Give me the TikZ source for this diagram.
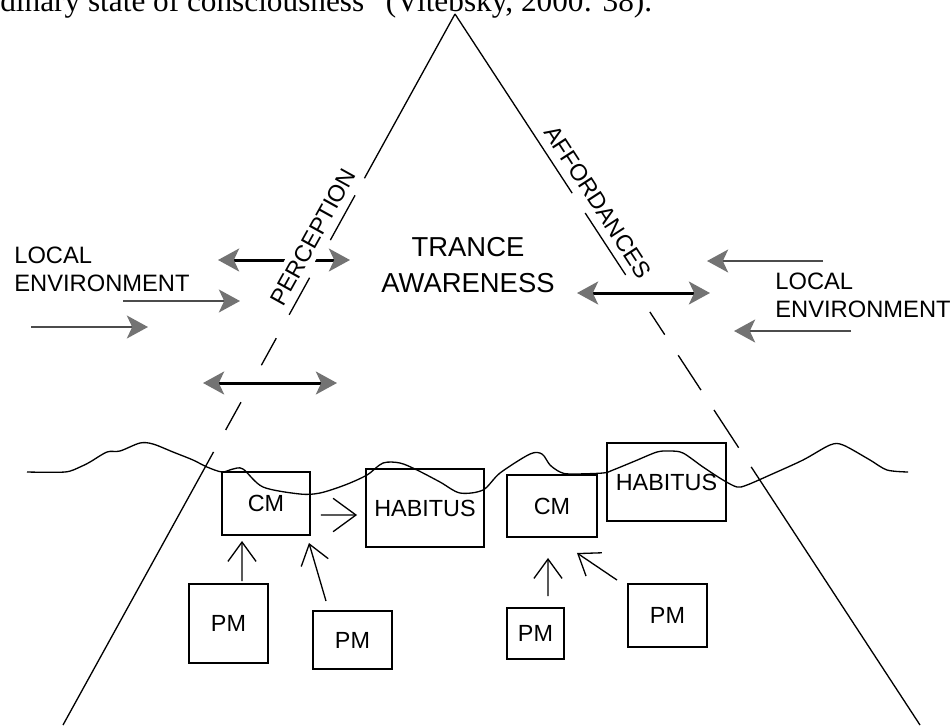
\documentclass[tikz,border=0pt]{standalone}
\usepackage{fontspec}
\setmainfont{Liberation Serif}
\setsansfont{Liberation Sans}
\usetikzlibrary{arrows.meta}
\usetikzlibrary{calc}
\usetikzlibrary{positioning}

\begin{document}
\begin{tikzpicture}[x=0.02cm, y=-0.02cm]
    \tikzset{
      gtip/.tip={Stealth[length=12pt, width=13pt, inset=3pt, color=black!55]},
      lbl/.style={font=\sffamily\fontsize{13.3}{16}\selectfont, inner sep=0pt},
      box/.style={draw, line width=1.1pt, lbl},
      side/.style={line width=0.75pt},
      wave/.style={line width=0.75pt},
      inarrow/.style={line width=1.4pt, draw=black!70, -gtip},
      twoarrow/.style={line width=1.7pt, gtip-gtip},
      openarrow/.style={line width=0.75pt, -{Straight Barb[length=11pt, width=16pt]}},
    }
    \useasboundingbox (0,0) rectangle (952,727);
    \clip (0,0) rectangle (952,727);

    % quoted line cut by the top edge
    \node[anchor=base west, inner sep=0pt, font=\fontsize{17.8}{20}\selectfont] (cite) at (0,11)
      {dinary state of consciousness” (Vitebsky, 2000: 38).};

    % triangle
    \coordinate (top) at (455,14);
    \coordinate (bl) at (63,725);
    \coordinate (br) at (920,725);
    \foreach \a/\b in {0/0.231, 0.255/0.318, 0.371/0.423, 0.456/0.494, 0.546/0.585, 0.616/1}
      \draw[side] ($(top)!\a!(bl)$) -- ($(top)!\b!(bl)$);
    \foreach \a/\b in {0/0.252, 0.280/0.367, 0.419/0.451, 0.480/0.529, 0.557/0.610, 0.637/1}
      \draw[side] ($(top)!\a!(br)$) -- ($(top)!\b!(br)$);

    % water line
    \draw[wave] plot[smooth, tension=0.5] coordinates {
      (27,472) (65,472) (80,467) (90,462) (107,452) (120,451) (140,443) (153,444)
      (173,452) (193,460) (207,467) (222,472) (233,469) (243,469) (263,487)
      (300,494) (320,493) (345,485) (367,475) (383,463) (400,463) (417,470)
      (440,482) (460,493) (483,490) (500,473) (530,454) (542,454) (550,465)
      (560,472) (570,474) (603,473) (613,470) (635,461) (657,452) (670,451)
      (683,453) (703,467) (723,480) (737,487) (747,485) (770,475) (803,460)
      (830,445) (843,445) (870,460) (887,470) (908,472)};

    % big arrows
    \coordinate (pl1) at (218,260);
    \coordinate (pr1) at (350,260);
    \coordinate (pl2) at (203,383);
    \coordinate (pr2) at (337,383);
    \coordinate (al) at (577,293);
    \coordinate (ar) at (710,293);
    \draw[twoarrow] (pl1) -- (pr1);
    \draw[twoarrow] (pl2) -- (pr2);
    \draw[twoarrow] (al) -- (ar);

    \coordinate (el1) at (123,301);
    \coordinate (et1) at (240,301);
    \coordinate (el2) at (31,327);
    \coordinate (et2) at (148,327);
    \coordinate (er1) at (823,261);
    \coordinate (eu1) at (707,261);
    \coordinate (er2) at (851,331);
    \coordinate (eu2) at (734,331);
    \draw[inarrow] (el1) -- (et1);
    \draw[inarrow] (el2) -- (et2);
    \draw[inarrow] (er1) -- (eu1);
    \draw[inarrow] (er2) -- (eu2);

    % labels
    \node[lbl, font=\sffamily\fontsize{13.5}{16}\selectfont, align=left, anchor=west] (envl) at (14,269)
      {LOCAL\\ENVIRONMENT};
    \node[lbl, font=\sffamily\fontsize{13.5}{16}\selectfont, align=left, anchor=west] (envr) at (775,295)
      {LOCAL\\ENVIRONMENT};
    \node[lbl, font=\sffamily\fontsize{15.6}{20}\selectfont, align=center] (trance) at (468,265)
      {TRANCE\\AWARENESS};
    \node[lbl, rotate=61, fill=white, inner sep=3pt] (perc) at (313,237) {PERCEPTION};
    \node[lbl, rotate=-57] (aff) at (598,202) {AFFORDANCES};

    % boxes
    \node[box, minimum width=1.76cm, minimum height=1.26cm] (cm1) at (266,503.5) {CM};
    \node[box, minimum width=2.36cm, minimum height=1.56cm] (hab1) at (425,508) {HABITUS};
    \node[box, minimum width=1.80cm, minimum height=1.24cm] (cm2) at (552,506) {CM};
    \node[box, minimum width=2.38cm, minimum height=1.56cm] (hab2) at (666.5,482) {HABITUS};
    \node[box, minimum width=1.58cm, minimum height=1.58cm] (pm1) at (228.5,623.5) {PM};
    \node[box, minimum width=1.58cm, minimum height=1.16cm] (pm2) at (352.5,640) {PM};
    \node[box, minimum width=1.14cm, minimum height=1.02cm] (pm3) at (535.5,633.5) {PM};
    \node[box, minimum width=1.58cm, minimum height=1.26cm] (pm4) at (667.5,615.5) {PM};

    \draw[openarrow, -{Straight Barb[length=13pt, width=19pt]}] ([xshift=0.2cm, yshift=-0.23cm]cm1.east) -- ([xshift=-0.16cm, yshift=-0.14cm]hab1.west);
    \draw[openarrow] ([xshift=0.27cm, yshift=0.04cm]pm1.north) -- ([xshift=-0.48cm, yshift=-0.1cm]cm1.south);
    \draw[openarrow] ([xshift=-0.53cm, yshift=0.18cm]pm2.north) -- ([xshift=-0.04cm, yshift=-0.14cm]cm1.south east);
    \draw[openarrow] ([xshift=0.25cm, yshift=0.22cm]pm3.north) -- ([xshift=-0.08cm, yshift=-0.4cm]cm2.south);
    \draw[openarrow] ([xshift=-1.01cm, yshift=0.06cm]pm4.north) -- ([xshift=-0.42cm, yshift=-0.3cm]cm2.south east);
  \end{tikzpicture}
\end{document}
